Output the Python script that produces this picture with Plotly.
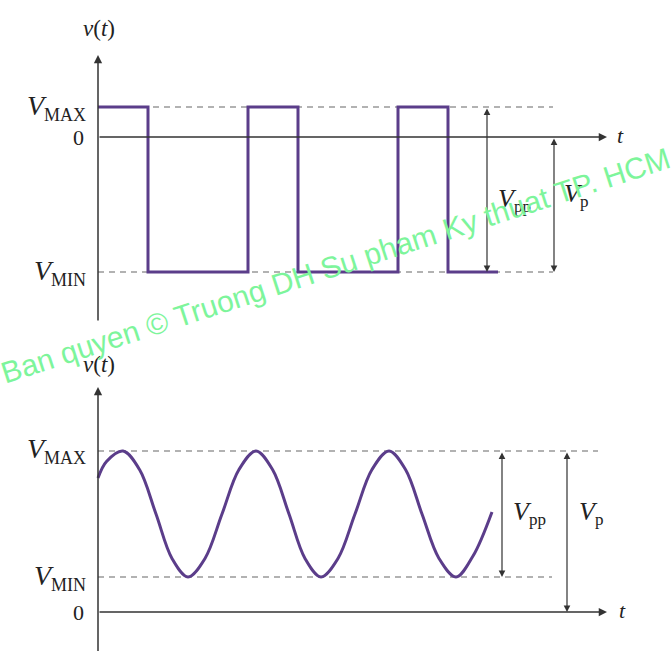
import plotly.graph_objects as go

# ---- top panel: square wave (levels in volts, times in arbitrary units) ----
SQ_VMAX = 1.0
SQ_VMIN = -4.5
sq_t = [0, 1, 3, 4, 6, 7, 8]
sq_v = [SQ_VMAX, SQ_VMIN, SQ_VMAX, SQ_VMIN, SQ_VMAX, SQ_VMIN, SQ_VMIN]

# ---- bottom panel: sinusoid riding on a DC offset ----
SN_VMAX = 4.6
SN_VMIN = 1.0
SN_MID = 2.8
sn_t = [0.0, 0.17, 0.5, 0.83, 1.16, 1.48, 1.8, 2.14, 2.48, 2.82, 3.16, 3.49,
        3.82, 4.14, 4.46, 4.8, 5.14, 5.48, 5.82, 6.15, 6.48, 6.82, 7.16, 7.5, 7.88]
sn_v = [3.83, 4.3, SN_VMAX, 4.07, SN_MID, 1.53, SN_VMIN, 1.53, SN_MID, 4.07,
        SN_VMAX, 4.07, SN_MID, 1.53, SN_VMIN, 1.53, SN_MID, 4.07, SN_VMAX, 4.07,
        SN_MID, 1.53, SN_VMIN, 1.6, 2.86]

WAVE = "#5b3d8a"
INK = "#333333"
DASH_C = "#666666"
SERIF = "Liberation Serif, Times New Roman, serif"

fig = go.Figure()
fig.add_trace(go.Scatter(x=sq_t, y=sq_v, mode="lines", line_shape="hv",
                         line=dict(color=WAVE, width=3), xaxis="x", yaxis="y",
                         hoverinfo="skip"))
fig.add_trace(go.Scatter(x=sn_t, y=sn_v, mode="lines", line_shape="spline",
                         line=dict(color=WAVE, width=3, smoothing=1.0),
                         xaxis="x2", yaxis="y2", hoverinfo="skip"))

shapes = []
annotations = []


def dashed(xr, yr, x0, x1, y):
    shapes.append(dict(type="line", xref=xr, yref=yr, x0=x0, x1=x1, y0=y, y1=y,
                       line=dict(color=DASH_C, width=1.2, dash="6px,5px"),
                       layer="below"))


def arrow(xr, yr, x0, y0, x1, y1, both=False, width=1.5):
    annotations.append(dict(xref=xr, yref=yr, axref=xr, ayref=yr,
                            x=x1, y=y1, ax=x0, ay=y0, text="", showarrow=True,
                            arrowhead=2, startarrowhead=2, arrowsize=1.1,
                            startarrowsize=1.1, arrowwidth=width,
                            arrowcolor=INK,
                            arrowside="end+start" if both else "end",
                            standoff=0, startstandoff=0))


def label(xr, yr, x, y, text, size=22, xanchor="right"):
    annotations.append(dict(xref=xr, yref=yr, x=x, y=y, text=text,
                            showarrow=False, xanchor=xanchor, yanchor="middle",
                            font=dict(family=SERIF, size=size, color="#222222")))


def vsym(sub, sub_size):
    return "<i>V</i><sub><span style='font-size:%dpx'>%s</span></sub>" % (sub_size, sub)


VT = "<i>v</i>(<i>t</i>)"

# top panel guides and axes
dashed("x", "y", 0, 9.1, SQ_VMAX)
dashed("x", "y", 0, 9.1, SQ_VMIN)
arrow("x", "y", 0, -6.17, 0, 2.73)
arrow("x", "y", 0, 0, 10.18, 0)
arrow("x", "y", 7.78, SQ_VMAX, 7.78, SQ_VMIN, both=True, width=1.2)
arrow("x", "y", 9.12, 0, 9.12, SQ_VMIN, both=True, width=1.2)
label("x", "y", 0.02, 3.63, VT, size=23, xanchor="center")
label("x", "y", -0.2, SQ_VMAX, vsym("MAX", 18), size=28)
label("x", "y", -0.24, 0, "0", size=22)
label("x", "y", -0.2, SQ_VMIN, vsym("MIN", 18), size=28)
label("x", "y", 10.44, 0.05, "<i>t</i>", size=22, xanchor="center")
label("x", "y", 7.96, -2.1, vsym("pp", 17), size=26, xanchor="left")
label("x", "y", 9.28, -1.93, vsym("p", 17), size=26, xanchor="left")

# bottom panel guides and axes
dashed("x2", "y2", 0, 10.0, SN_VMAX)
dashed("x2", "y2", 0, 9.08, SN_VMIN)
arrow("x2", "y2", 0, -1.2, 0, 6.43)
arrow("x2", "y2", 0, 0, 10.18, 0)
arrow("x2", "y2", 8.08, SN_VMAX, 8.08, SN_VMIN, both=True, width=1.2)
arrow("x2", "y2", 9.38, SN_VMAX, 9.38, 0, both=True, width=1.2)
label("x2", "y2", 0.02, 7.06, VT, size=23, xanchor="center")
label("x2", "y2", -0.2, SN_VMAX, vsym("MAX", 18), size=28)
label("x2", "y2", -0.2, SN_VMIN, vsym("MIN", 18), size=28)
label("x2", "y2", -0.24, 0, "0", size=22)
label("x2", "y2", 10.48, 0.05, "<i>t</i>", size=22, xanchor="center")
label("x2", "y2", 8.26, 2.83, vsym("pp", 17), size=26, xanchor="left")
label("x2", "y2", 9.58, 2.83, vsym("p", 17), size=26, xanchor="left")

# copyright watermark
annotations.append(dict(xref="paper", yref="paper", x=0.5, y=0.592,
                        text="Ban quyen © Truong DH Su pham Ky thuat TP. HCM",
                        showarrow=False, textangle=-18,
                        font=dict(family="Liberation Sans, Arial, sans-serif",
                                  size=30, color="#7df59b")))

hidden = dict(visible=False, showgrid=False, zeroline=False, fixedrange=True)
fig.update_layout(
    width=671, height=651,
    margin=dict(l=0, r=0, t=0, b=0),
    paper_bgcolor="white", plot_bgcolor="white",
    showlegend=False,
    xaxis=dict(domain=[0, 1], range=[-1.96, 11.46], anchor="y", **hidden),
    yaxis=dict(domain=[0.4931, 0.9846], range=[-6.433, 4.233], anchor="x", **hidden),
    xaxis2=dict(domain=[0, 1], range=[-1.96, 11.46], anchor="y2", **hidden),
    yaxis2=dict(domain=[0, 0.47773], range=[-1.114, 7.771], anchor="x2", **hidden),
    shapes=shapes,
    annotations=annotations,
)

fig.write_html("out.html")
